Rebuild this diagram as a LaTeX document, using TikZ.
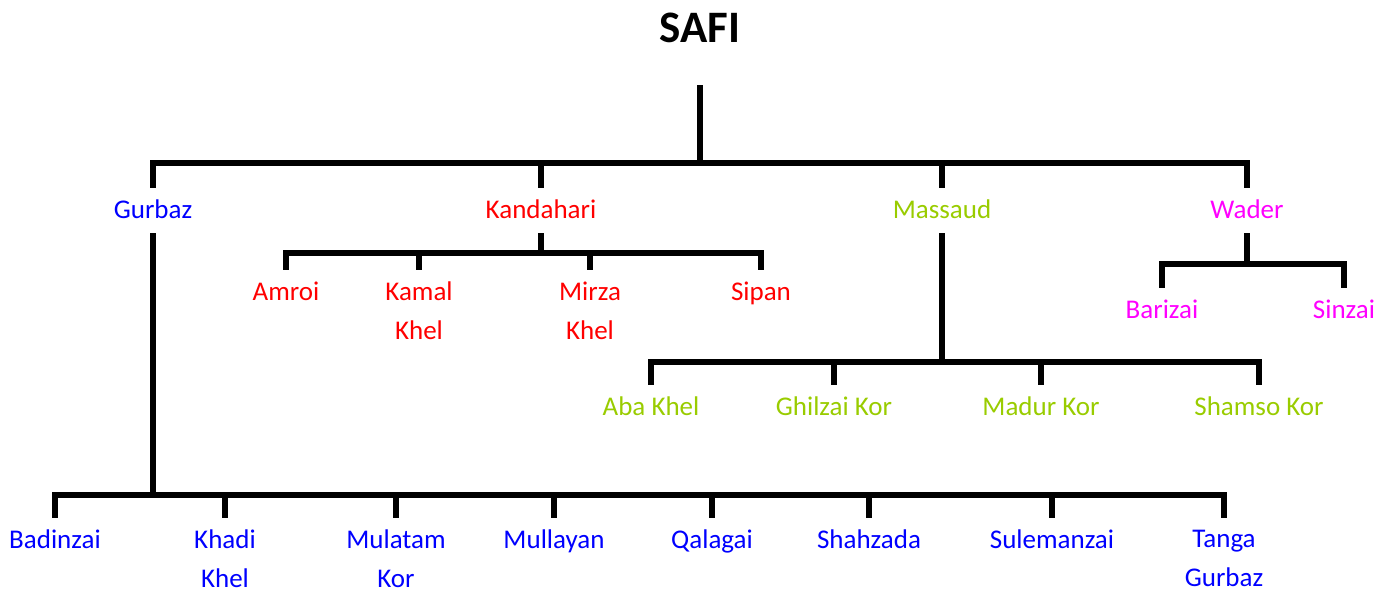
\documentclass[tikz,border=0pt]{standalone}
\usepackage{fontspec}
\setmainfont{Carlito}
\usepackage{xcolor}
\usetikzlibrary{positioning}

\definecolor{gurbazblue}{RGB}{0,0,255}
\definecolor{kandred}{RGB}{255,0,0}
\definecolor{massgreen}{RGB}{153,204,0}
\definecolor{wadermag}{RGB}{255,0,255}

\begin{document}
\begin{tikzpicture}[
  x=1pt, y=-1pt,
  clan/.style={inner sep=0pt, outer ysep=12pt, anchor=north, align=center,
               font=\fontsize{27}{39}\selectfont},
  tribe/.style={clan, text depth=0.25em},
  branch/.style={line width=5.5pt, black}
]
\useasboundingbox (0,0) rectangle (1387,592);

% root
\node[inner sep=0pt, outer ysep=43pt, anchor=base, font=\fontsize{45}{54}\selectfont\bfseries] (safi) at (700,42) {SAFI};
\coordinate (safi-bar) at (700,163);

% main tribes
\node[tribe, gurbazblue] (gurbaz) at (153,188) {Gurbaz};
\node[tribe, kandred] (kandahari) at (541,188) {Kandahari};
\node[tribe, massgreen] (massaud) at (942,188) {Massaud};
\node[tribe, wadermag] (wader) at (1247,188) {Wader};

\foreach \t in {gurbaz, kandahari, massaud, wader} {
  \draw[branch] (safi.south) -- (safi-bar) -| (\t.north);
}

% Kandahari
\coordinate (kandahari-bar) at (541,253);
\node[clan, kandred] (amroi) at (286,270) {Amroi};
\node[clan, kandred] (kamal) at (419,270) {Kamal\\Khel};
\node[clan, kandred] (mirza) at (590,270) {Mirza\\Khel};
\node[clan, kandred] (sipan) at (761,270) {Sipan};

\foreach \c in {amroi, kamal, mirza, sipan} {
  \draw[branch] (kandahari.south) -- (kandahari-bar) -| (\c.north);
}

% Wader
\coordinate (wader-bar) at (1247,264);
\node[clan, wadermag] (barizai) at (1162,288) {Barizai};
\node[clan, wadermag] (sinzai) at (1344,288) {Sinzai};

\foreach \c in {barizai, sinzai} {
  \draw[branch] (wader.south) -- (wader-bar) -| (\c.north);
}

% Massaud
\coordinate (massaud-bar) at (942,362);
\node[clan, massgreen] (aba) at (651,385) {Aba Khel};
\node[clan, massgreen] (ghilzai) at (834,385) {Ghilzai Kor};
\node[clan, massgreen] (madur) at (1041,385) {Madur Kor};
\node[clan, massgreen] (shamso) at (1259,385) {Shamso Kor};

\foreach \c in {aba, ghilzai, madur, shamso} {
  \draw[branch] (massaud.south) -- (massaud-bar) -| (\c.north);
}

% Gurbaz
\coordinate (gurbaz-bar) at (153,495);
\node[clan, gurbazblue] (badinzai) at (55,518) {Badinzai};
\node[clan, gurbazblue] (khadi) at (225,518) {Khadi\\Khel};
\node[clan, gurbazblue] (mulatam) at (396,518) {Mulatam\\Kor};
\node[clan, gurbazblue] (mullayan) at (554,518) {Mullayan};
\node[clan, gurbazblue] (qalagai) at (712,518) {Qalagai};
\node[clan, gurbazblue] (shahzada) at (869,518) {Shahzada};
\node[clan, gurbazblue] (sulemanzai) at (1052,518) {Sulemanzai};
\node[clan, gurbazblue] (tanga) at (1224,518) {Tanga\\Gurbaz};

\foreach \c in {badinzai, khadi, mulatam, mullayan, qalagai, shahzada, sulemanzai, tanga} {
  \draw[branch] (gurbaz.south) -- (gurbaz-bar) -| (\c.north);
}

\end{tikzpicture}
\end{document}
